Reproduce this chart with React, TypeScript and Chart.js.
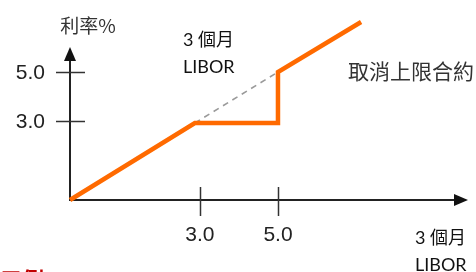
import React, { useEffect, useRef } from "react";
import { Chart, registerables } from "chart.js";

Chart.register(...registerables);

// Capped-rate line (cap removed at 5.0)
const capX = [-0.33, 2.87, 5.0, 5.0, 7.13];
const capY = [-0.22, 2.92, 2.92, 5.0, 7.04];
// Uncapped (dashed) reference segment
const refX = [2.87, 5.0];
const refY = [2.92, 5.0];

const xTickValues = [3, 5];
const xTickLabels = ["3.0", "5.0"];
const yTickValues = [3, 5];
const yTickLabels = ["3.0", "5.0"];

const X_MIN = -0.33;
const X_MAX = 9.87;
const Y_MIN = -0.22;
const Y_MAX = 7.12;
const Y_AXIS_END = 6.02;

const CJK = "'Noto Sans CJK TC', 'Noto Sans CJK SC', sans-serif";

const axesPlugin = {
  id: "schematicAxes",
  beforeDatasetsDraw(chart: any) {
    const ctx = chart.ctx;
    const xs = chart.scales.x;
    const ys = chart.scales.y;
    const ox = xs.getPixelForValue(X_MIN);
    const oy = ys.getPixelForValue(Y_MIN);
    const xEnd = xs.getPixelForValue(X_MAX);
    const yEnd = ys.getPixelForValue(Y_AXIS_END);
    ctx.save();
    ctx.strokeStyle = "#222";
    ctx.fillStyle = "#111";
    ctx.lineWidth = 2;
    // y axis
    ctx.beginPath();
    ctx.moveTo(ox, oy + 1);
    ctx.lineTo(ox, yEnd + 10);
    ctx.stroke();
    ctx.beginPath();
    ctx.moveTo(ox, yEnd);
    ctx.lineTo(ox - 6, yEnd + 14);
    ctx.lineTo(ox + 6, yEnd + 14);
    ctx.closePath();
    ctx.fill();
    // x axis
    ctx.beginPath();
    ctx.moveTo(ox - 1, oy);
    ctx.lineTo(xEnd - 10, oy);
    ctx.stroke();
    ctx.beginPath();
    ctx.moveTo(xEnd, oy);
    ctx.lineTo(xEnd - 14, oy - 6);
    ctx.lineTo(xEnd - 14, oy + 6);
    ctx.closePath();
    ctx.fill();
    // ticks
    ctx.lineWidth = 1.5;
    ctx.strokeStyle = "#333";
    yTickValues.forEach((v) => {
      const py = Math.round(ys.getPixelForValue(v)) + 0.5;
      ctx.beginPath();
      ctx.moveTo(ox - 14, py);
      ctx.lineTo(ox + 15, py);
      ctx.stroke();
    });
    xTickValues.forEach((v) => {
      const px = Math.round(xs.getPixelForValue(v)) + 0.5;
      ctx.beginPath();
      ctx.moveTo(px, oy - 13);
      ctx.lineTo(px, oy + 16);
      ctx.stroke();
    });
    ctx.restore();
  },
  afterDraw(chart: any) {
    const ctx = chart.ctx;
    const xs = chart.scales.x;
    const ys = chart.scales.y;
    const ox = xs.getPixelForValue(X_MIN);
    const oy = ys.getPixelForValue(Y_MIN);
    ctx.save();
    ctx.textBaseline = "middle";
    // tick labels
    ctx.fillStyle = "#222";
    ctx.font = "21px 'Liberation Sans', Arial, sans-serif";
    ctx.textAlign = "right";
    yTickValues.forEach((v, i) => {
      ctx.fillText(yTickLabels[i], 45, ys.getPixelForValue(v) + 1);
    });
    ctx.textAlign = "center";
    xTickValues.forEach((v, i) => {
      ctx.fillText(xTickLabels[i], xs.getPixelForValue(v), oy + 35);
    });
    // axis titles & annotations
    ctx.fillStyle = "#333";
    ctx.textAlign = "center";
    ctx.font = `19px ${CJK}`;
    ctx.fillText("利率%", ox + 18, 26);
    ctx.textAlign = "left";
    ctx.fillStyle = "#111";
    ctx.font = `18px Lato, ${CJK}`;
    ctx.fillText("3 個月", 183, 40);
    ctx.font = "18px Lato, sans-serif";
    ctx.fillText("LIBOR", 183, 67);
    ctx.font = `18px Lato, ${CJK}`;
    ctx.fillText("3 個月", 415, 238);
    ctx.font = "18px Lato, sans-serif";
    ctx.fillText("LIBOR", 415, 265);
    ctx.fillStyle = "#333";
    ctx.font = `21px ${CJK}`;
    ctx.fillText("取消上限合約", 348, 71);
    // partially visible red heading at the bottom edge
    ctx.fillStyle = "#C00000";
    ctx.font = `bold 22px ${CJK}`;
    ctx.textBaseline = "top";
    ctx.fillText("三例", 0, 269);
    ctx.restore();
  },
};

export default function App() {
  const ref = useRef<HTMLCanvasElement | null>(null);
  useEffect(() => {
    if (!ref.current) return;
    const chart = new Chart(ref.current, {
      type: "line",
      data: {
        datasets: [
          {
            data: capX.map((x, i) => ({ x, y: capY[i] })),
            borderColor: "#FF6A00",
            borderWidth: 4.5,
            pointRadius: 0,
            tension: 0,
            fill: false,
            borderJoinStyle: "miter",
            borderCapStyle: "butt",
            clip: false,
          } as any,
          {
            data: refX.map((x, i) => ({ x, y: refY[i] })),
            borderColor: "#9a9a9a",
            borderWidth: 1.6,
            borderDash: [6, 5],
            pointRadius: 0,
            fill: false,
            clip: false,
          } as any,
        ],
      },
      options: {
        animation: false,
        responsive: false,
        layout: { padding: { left: 70, right: 8, top: 20, bottom: 72 } },
        plugins: { legend: { display: false }, tooltip: { enabled: false } },
        scales: {
          x: { type: "linear", min: X_MIN, max: X_MAX, display: false },
          y: { type: "linear", min: Y_MIN, max: Y_MAX, display: false },
        },
      },
      plugins: [axesPlugin],
    });
    return () => chart.destroy();
  }, []);
  return (
    <div style={{ position: "fixed", left: 0, top: 0, width: 476, height: 272, background: "#fff" }}>
      <canvas ref={ref} width={476} height={272} style={{ display: "block" }} />
    </div>
  );
}
